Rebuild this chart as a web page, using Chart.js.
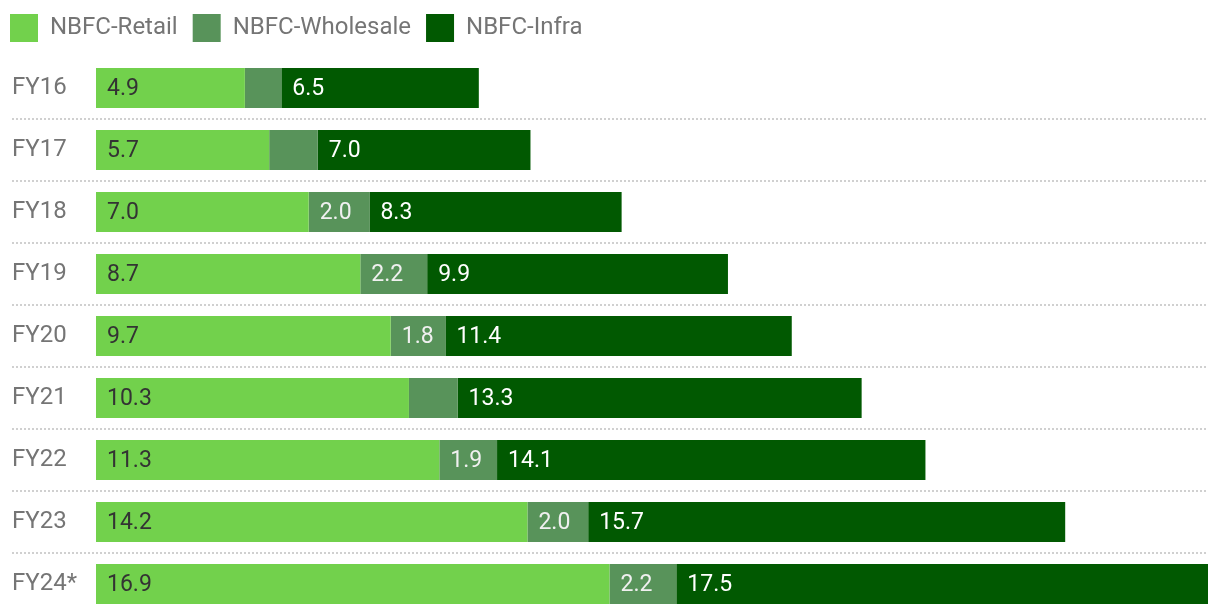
<!DOCTYPE html>
<html>
<head>
<meta charset="utf-8">
<script src="https://cdn.jsdelivr.net/npm/chart.js@4.4.0/dist/chart.umd.min.js"></script>
<style>
  html, body { margin: 0; padding: 0; background: #ffffff; overflow: hidden; }
  canvas { display: block; }
</style>
</head>
<body>
<canvas id="myChart" width="1220" height="616"></canvas>
<script>
// years on the left
const years = ['FY16', 'FY17', 'FY18', 'FY19', 'FY20', 'FY21', 'FY22', 'FY23', 'FY24*'];

// values per segment (lakh crore)
const retail = [4.9, 5.7, 7.0, 8.7, 9.7, 10.3, 11.3, 14.2, 16.9];
const wholesale = [1.2, 1.6, 2.0, 2.2, 1.8, 1.6, 1.9, 2.0, 2.2];
const infra = [6.5, 7.0, 8.3, 9.9, 11.4, 13.3, 14.1, 15.7, 17.5];

const seriesNames = ['NBFC-Retail', 'NBFC-Wholesale', 'NBFC-Infra'];
const barColors = ['#72d14c', '#58935a', '#015901'];
const labelColors = ['#333333', '#f0f0f0', '#ffffff'];

const fontFamily = 'Roboto, "Noto Sans", sans-serif';

// the biggest stack sets the right edge
const xMax = Math.max(...years.map((y, i) => retail[i] + wholesale[i] + infra[i]));

// dotted separators between the rows
const rowLines = {
    id: 'rowLines',
    beforeDatasetsDraw(chart) {
        const ctx = chart.ctx;
        const yScale = chart.scales.y;
        ctx.save();
        ctx.strokeStyle = '#d0d0d0';
        ctx.lineWidth = 2;
        ctx.setLineDash([2, 2]);
        for (let i = 0; i < years.length - 1; i++) {
            const y = Math.round((yScale.getPixelForValue(i) + yScale.getPixelForValue(i + 1)) / 2);
            ctx.beginPath();
            ctx.moveTo(12, y);
            ctx.lineTo(chart.chartArea.right, y);
            ctx.stroke();
        }
        ctx.restore();
    }
};

// value labels at the left of each segment
const segLabels = {
    id: 'segLabels',
    afterDatasetsDraw(chart) {
        const ctx = chart.ctx;
        ctx.save();
        ctx.font = '23px ' + fontFamily;
        ctx.textBaseline = 'middle';
        ctx.textAlign = 'left';
        chart.data.datasets.forEach((ds, di) => {
            const meta = chart.getDatasetMeta(di);
            meta.data.forEach((bar, i) => {
                const v = ds.data[i];
                if (v < 1.7) return; // too narrow for a label
                ctx.fillStyle = labelColors[di];
                ctx.fillText(v.toFixed(1), Math.min(bar.base, bar.x) + 11, bar.y + 1);
            });
        });
        ctx.restore();
    }
};

new Chart('myChart', {
    type: 'bar',
    data: {
        labels: years,
        datasets: [
            { label: seriesNames[0], data: retail, backgroundColor: barColors[0] },
            { label: seriesNames[1], data: wholesale, backgroundColor: barColors[1] },
            { label: seriesNames[2], data: infra, backgroundColor: barColors[2] }
        ]
    },
    options: {
        indexAxis: 'y',
        responsive: false,
        animation: false,
        layout: { padding: { left: -5, right: 12, top: -1, bottom: 1 } },
        datasets: {
            bar: { barPercentage: 0.645, categoryPercentage: 1 }
        },
        scales: {
            x: {
                stacked: true,
                display: false,
                min: 0,
                max: xMax
            },
            y: {
                stacked: true,
                weight: 0,
                grid: { display: false },
                border: { display: false },
                ticks: {
                    crossAlign: 'far',
                    color: '#757575',
                    font: { family: fontFamily, size: 24 }
                },
                afterFit(scale) {
                    scale.width = 84;
                    scale.paddingTop = 0;
                    scale.paddingBottom = 0;
                }
            },
            // empty axis, only keeps the year labels off the edge
            pad: {
                type: 'category',
                labels: years,
                position: 'left',
                weight: 1,
                grid: { display: false },
                border: { display: false },
                ticks: { display: false },
                afterFit(scale) {
                    scale.width = 17;
                    scale.paddingTop = 0;
                    scale.paddingBottom = 0;
                }
            }
        },
        plugins: {
            legend: {
                position: 'top',
                align: 'start',
                labels: {
                    boxWidth: 28,
                    boxHeight: 28,
                    padding: 15,
                    color: '#757575',
                    font: { family: fontFamily, size: 24 }
                }
            },
            tooltip: { enabled: false }
        }
    },
    plugins: [rowLines, segLabels, {
        id: 'legendHeight',
        beforeInit(chart) {
            const fit = chart.legend.fit;
            chart.legend.fit = function () {
                fit.bind(chart.legend)();
                this.height = 58;
            };
        }
    }]
});
</script>
</body>
</html>
